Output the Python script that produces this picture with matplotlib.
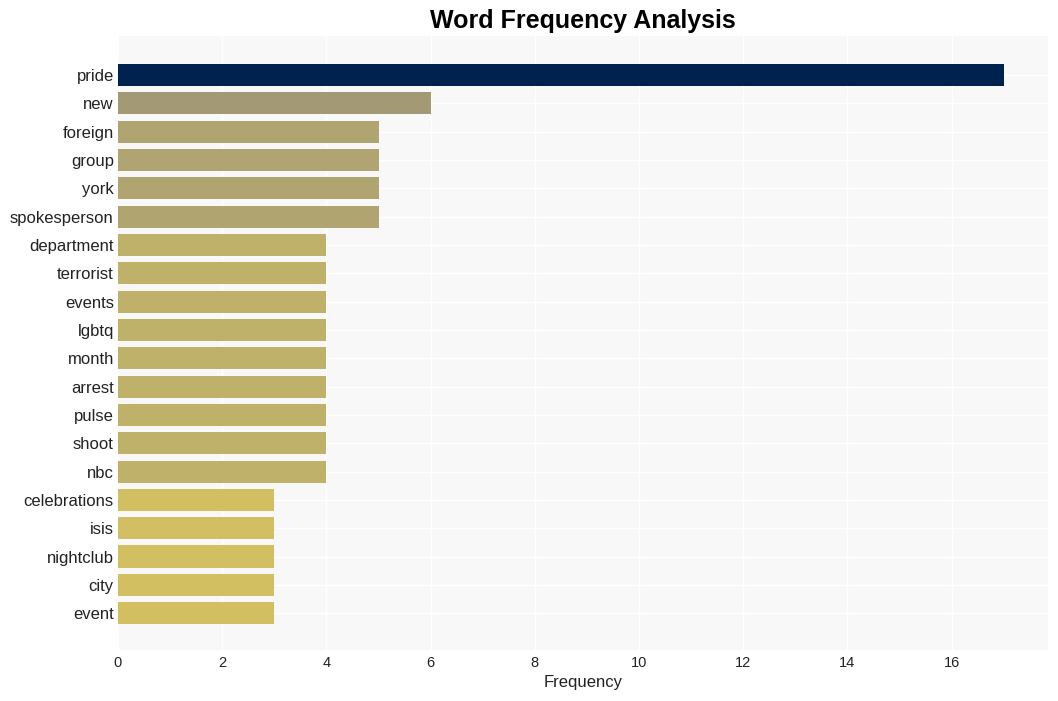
import matplotlib
matplotlib.use('Agg')
import matplotlib.pyplot as plt
import numpy as np

plt.rcParams['font.family'] = ['Liberation Sans', 'DejaVu Sans']

# word counts, top to bottom
words = ['pride', 'new', 'foreign', 'group', 'york', 'spokesperson', 'department',
         'terrorist', 'events', 'lgbtq', 'month', 'arrest', 'pulse', 'shoot', 'nbc',
         'celebrations', 'isis', 'nightclub', 'city', 'event']
counts = [17, 6, 5, 5, 5, 5, 4, 4, 4, 4, 4, 4, 4, 4, 4, 3, 3, 3, 3, 3]

# colour per count value
value_colors = {17: '#00224e', 6: '#a39a75', 5: '#b0a570', 4: '#bfb06a', 3: '#d1bf62'}
colors = [value_colors[c] for c in counts]

fig = plt.figure(figsize=(10.58, 7.01), dpi=100)
ax = fig.add_axes([118 / 1058, 1 - 650 / 701, (1048 - 118) / 1058, (650 - 36) / 701])
ax.set_facecolor('#f8f8f8')

y = np.arange(len(words))
ax.barh(y, counts, height=0.78, color=colors, zorder=2)
ax.set_yticks(y)
ax.set_yticklabels(words, fontsize=12, color='#222222')
ax.set_ylim(len(words) - 1 + 1.3, -1.38)
ax.set_xlim(0, 17.85)
ax.set_xticks(np.arange(0, 17, 2))
ax.tick_params(axis='x', labelsize=10.5, colors='#222222', length=0, pad=4)
ax.tick_params(axis='y', length=0, pad=3)
ax.grid(True, color='white', linewidth=1, zorder=0)
ax.set_axisbelow(True)
for s in ax.spines.values():
    s.set_visible(False)

ax.set_xlabel('Frequency', fontsize=12, color='#222222', labelpad=4)
ax.set_title('Word Frequency Analysis', fontsize=18, fontweight='bold', pad=6)

fig.savefig('out.png', dpi=100, facecolor='white')
